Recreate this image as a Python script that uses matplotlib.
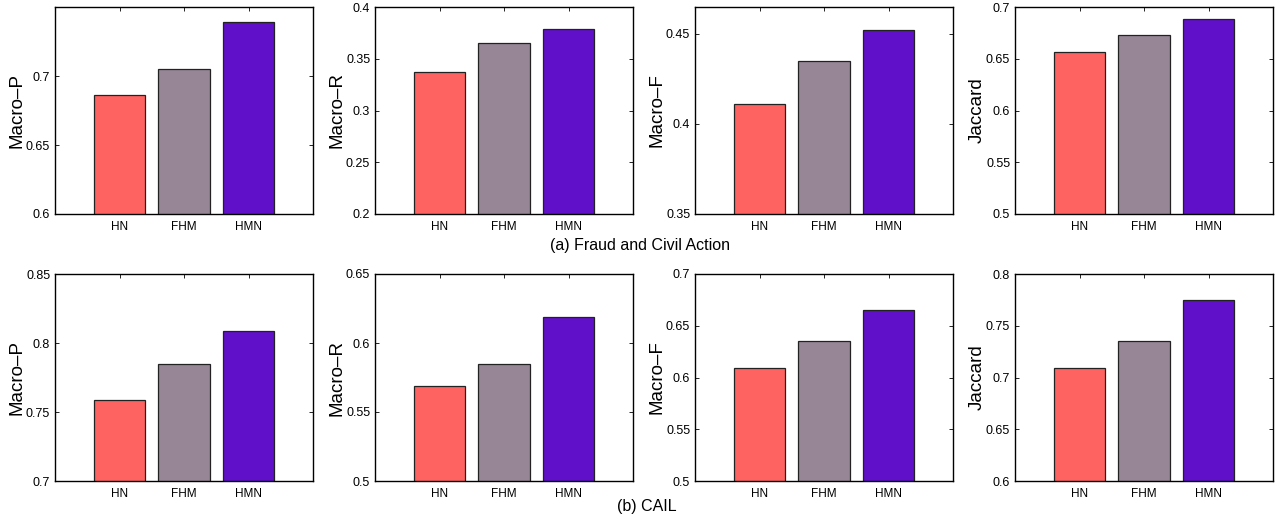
import matplotlib
matplotlib.use('Agg')
import matplotlib.pyplot as plt

plt.rcParams['font.family'] = ['Liberation Sans', 'DejaVu Sans']

methods = ['HN', 'FHM', 'HMN']
colors = ['#ff6361', '#968696', '#6010c8']
metrics = ['Macro\u2013P', 'Macro\u2013R', 'Macro\u2013F', 'Jaccard']

# (a) Fraud and Civil Action
fraud_p = [0.686, 0.705, 0.739]
fraud_r = [0.337, 0.365, 0.379]
fraud_f = [0.411, 0.435, 0.452]
fraud_j = [0.657, 0.673, 0.688]

# (b) CAIL
cail_p = [0.759, 0.785, 0.809]
cail_r = [0.569, 0.585, 0.619]
cail_f = [0.609, 0.635, 0.665]
cail_j = [0.709, 0.735, 0.775]

fraud_ylims = [(0.6, 0.75), (0.2, 0.4), (0.35, 0.465), (0.5, 0.7)]
fraud_ticks = [[0.6, 0.65, 0.7], [0.2, 0.25, 0.3, 0.35, 0.4], [0.35, 0.4, 0.45], [0.5, 0.55, 0.6, 0.65, 0.7]]
cail_ylims = [(0.7, 0.85), (0.5, 0.65), (0.5, 0.7), (0.6, 0.8)]
cail_ticks = [[0.7, 0.75, 0.8, 0.85], [0.5, 0.55, 0.6, 0.65], [0.5, 0.55, 0.6, 0.65, 0.7], [0.6, 0.65, 0.7, 0.75, 0.8]]

rows = [
    ([fraud_p, fraud_r, fraud_f, fraud_j], fraud_ylims, fraud_ticks),
    ([cail_p, cail_r, cail_f, cail_j], cail_ylims, cail_ticks),
]

W, H = 1276, 519
fig = plt.figure(figsize=(W / 100, H / 100), dpi=100)

lefts = [55, 375, 695, 1015]
tops = [7, 274]
aw, ah = 258, 207

for r, (vals, ylims, ticks) in enumerate(rows):
    for c in range(4):
        ax = fig.add_axes([lefts[c] / W, 1 - (tops[r] + ah) / H, aw / W, ah / H])
        ax.bar([1, 2, 3], vals[c], width=0.8, color=colors,
               edgecolor='#222222', linewidth=0.9, zorder=2)
        ax.set_xlim(0, 4)
        ax.set_ylim(*ylims[c])
        ax.set_yticks(ticks[c])
        ax.set_yticklabels(['%g' % t for t in ticks[c]], fontsize=9)
        ax.set_xticks([1, 2, 3])
        ax.set_xticklabels(methods, fontsize=8.5)
        ax.tick_params(direction='in', top=True, right=True, length=3, width=0.6)
        ax.tick_params(axis='x', pad=5)
        ax.set_ylabel(metrics[c], fontsize=13.5, labelpad=0)
        for s in ax.spines.values():
            s.set_linewidth(1.0)

fig.text(640 / W, 1 - 245 / H, '(a) Fraud and Civil Action', ha='center', va='center', fontsize=11.5)
fig.text(647 / W, 1 - 506 / H, '(b) CAIL', ha='center', va='center', fontsize=11.5)

fig.savefig('out.png', dpi=100)
